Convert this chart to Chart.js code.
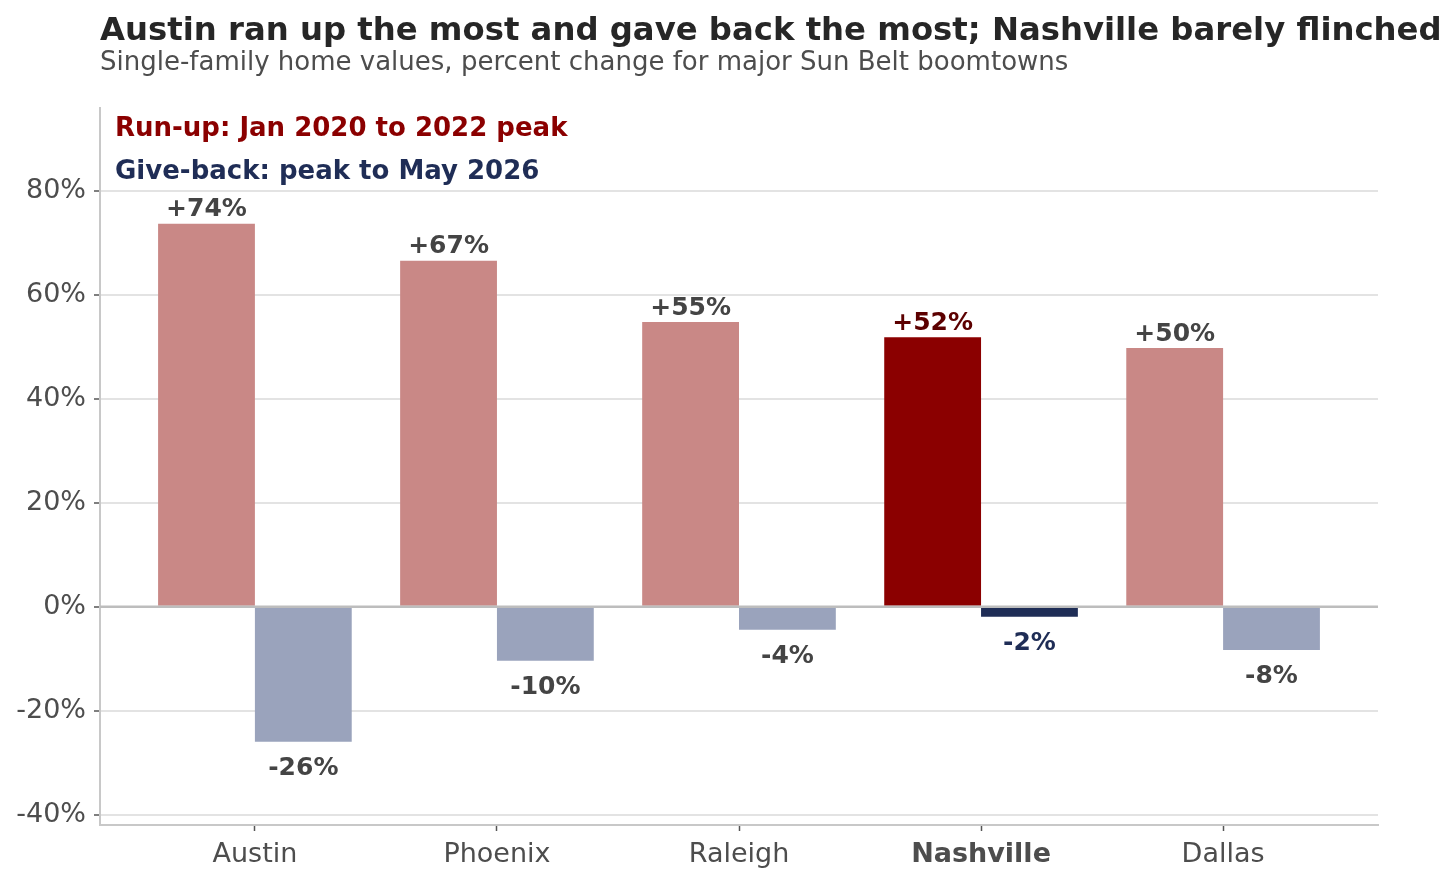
<!DOCTYPE html>
<html>
<head>
<meta charset="utf-8">
<script src="https://cdn.jsdelivr.net/npm/chart.js@4"></script>
<style>
  html, body { margin: 0; padding: 0; background: #fff; }
  #wrap { width: 1454px; height: 881px; position: relative; }
</style>
</head>
<body>
<div id="wrap"><canvas id="chart"></canvas></div>
<script>
// data
const cities = ['Austin', 'Phoenix', 'Raleigh', 'Nashville', 'Dallas'];
const runUp = [73.7, 66.6, 54.8, 51.9, 49.8];
const giveBack = [-26.0, -10.4, -4.4, -1.9, -8.3];
const yTicks = [-40, -20, 0, 20, 40, 60, 80];
const highlight = 'Nashville';

const FONT = "'DejaVu Sans', sans-serif";
const TEXT = '#4d4d4d';

// colours
const runLight = '#c98886', runDark = '#8b0000';
const giveLight = '#9aa3bc', giveDark = '#1f2d56';

const hiIdx = cities.indexOf(highlight);

function fmt(v) {
    const r = Math.round(v);
    return (r > 0 ? '+' : '') + r + '%';
}

// titles, legend text, zero line and value labels
const decor = {
    id: 'decor',
    afterDatasetsDraw(chart) {
        const ctx = chart.ctx;
        const area = chart.chartArea;
        const y = chart.scales.y;
        ctx.save();

        // zero line above bars
        const y0 = y.getPixelForValue(0);
        ctx.strokeStyle = '#bdbdbd';
        ctx.lineWidth = 2.5;
        ctx.beginPath();
        ctx.moveTo(area.left, y0);
        ctx.lineTo(area.right, y0);
        ctx.stroke();

        // value labels
        ctx.font = 'bold 25px ' + FONT;
        ctx.textAlign = 'center';
        ctx.textBaseline = 'middle';
        chart.data.datasets.forEach((ds, di) => {
            const meta = chart.getDatasetMeta(di);
            meta.data.forEach((bar, i) => {
                const v = ds.data[i].y;
                if (i === hiIdx) ctx.fillStyle = di === 0 ? '#5c0000' : giveDark;
                else ctx.fillStyle = '#444444';
                const ty = v >= 0 ? bar.y - 14 : bar.y + 27;
                ctx.fillText(fmt(v), bar.x, ty);
            });
        });

        // legend text inside plot
        ctx.textAlign = 'left';
        ctx.textBaseline = 'alphabetic';
        ctx.font = 'bold 26px ' + FONT;
        ctx.fillStyle = runDark;
        ctx.fillText('Run-up: Jan 2020 to 2022 peak', area.left + 15, 136);
        ctx.fillStyle = giveDark;
        ctx.fillText('Give-back: peak to May 2026', area.left + 15, 179);

        // title + subtitle
        ctx.fillStyle = '#262626';
        ctx.font = 'bold 32.3px ' + FONT;
        ctx.fillText('Austin ran up the most and gave back the most; Nashville barely flinched', area.left, 40);
        ctx.fillStyle = TEXT;
        ctx.font = '26px ' + FONT;
        ctx.fillText('Single-family home values, percent change for major Sun Belt boomtowns', area.left, 70);

        ctx.restore();
    }
};

new Chart(document.getElementById('chart'), {
    type: 'bar',
    data: {
        datasets: [
            {
                label: 'Run-up',
                data: runUp.map((v, i) => ({ x: i, y: v })),
                backgroundColor: cities.map((c, i) => i === hiIdx ? runDark : runLight),
                barPercentage: 1,
                categoryPercentage: 0.8
            },
            {
                label: 'Give-back',
                data: giveBack.map((v, i) => ({ x: i, y: v })),
                backgroundColor: cities.map((c, i) => i === hiIdx ? giveDark : giveLight),
                barPercentage: 1,
                categoryPercentage: 0.8
            }
        ]
    },
    options: {
        responsive: true,
        maintainAspectRatio: false,
        animation: false,
        layout: { padding: { top: 108, right: 76, left: 0, bottom: 0 } },
        plugins: {
            legend: { display: false },
            tooltip: { enabled: false }
        },
        scales: {
            x: {
                type: 'linear',
                offset: false,
                min: -0.64,
                max: 4.64,
                afterBuildTicks: s => { s.ticks = cities.map((c, i) => ({ value: i })); },
                afterFit: s => { s.height = 56; },
                border: { color: '#c8c8c8', width: 2 },
                grid: { offset: false, drawOnChartArea: false, tickLength: 6, tickColor: '#555', tickWidth: 1.5 },
                ticks: {
                    padding: 8,
                    color: TEXT,
                    autoSkip: false,
                    maxRotation: 0,
                    callback: v => cities[v] ?? '',
                    font: c => ({
                        family: FONT,
                        size: 27,
                        weight: c.tick && cities[c.tick.value] === highlight ? 'bold' : 'normal'
                    })
                }
            },
            y: {
                min: -42,
                max: 96,
                afterBuildTicks: s => { s.ticks = yTicks.map(v => ({ value: v })); },
                afterFit: s => { s.width = 100; },
                border: { color: '#c8c8c8', width: 2 },
                grid: { color: '#e3e3e3', lineWidth: 2, tickLength: 6, tickColor: '#555', tickWidth: 1.5 },
                ticks: {
                    padding: 8,
                    color: TEXT,
                    font: { family: FONT, size: 27 },
                    callback: v => v + '%'
                }
            }
        }
    },
    plugins: [decor]
});
</script>
</body>
</html>
